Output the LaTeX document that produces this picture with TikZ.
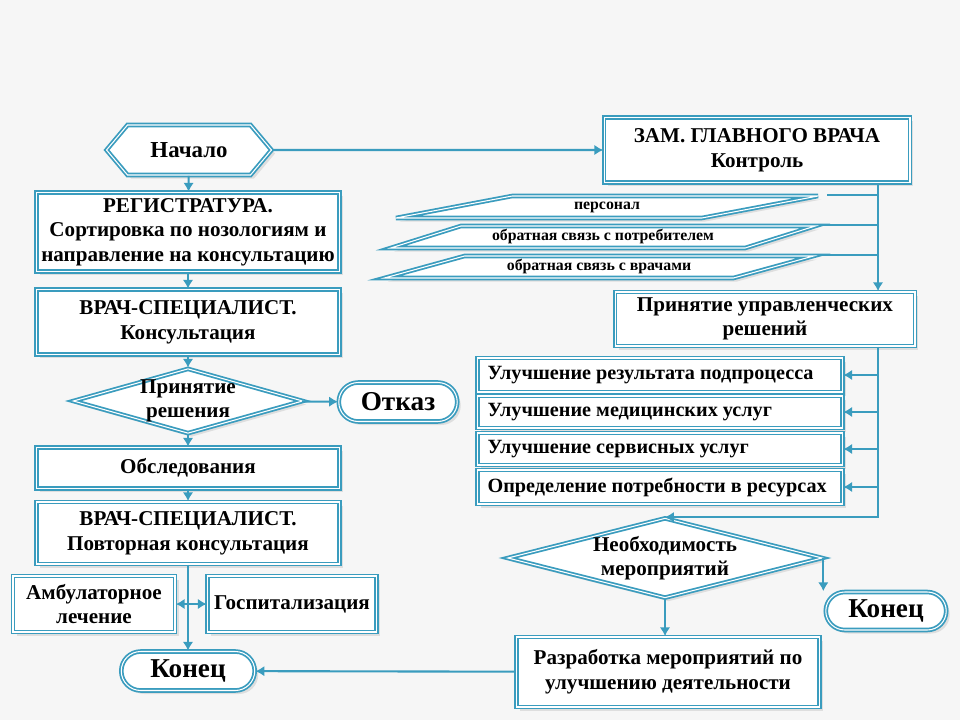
\documentclass[tikz,border=0pt]{standalone}
\usepackage{fontspec}
\setmainfont{Liberation Serif}
\usetikzlibrary{arrows.meta,shapes.geometric,shapes.symbols,shapes.misc,shadows}
\definecolor{frame}{RGB}{58,156,190}
\definecolor{paper}{RGB}{246,246,246}
\tikzset{
  base/.style={draw=frame, double=white, line width=1pt, double distance=0.6pt,
    fill=white, align=center, inner sep=1pt,
    font=\bfseries\fontsize{12}{14}\selectfont,
    drop shadow={shadow xshift=2pt, shadow yshift=-2pt, opacity=0.2}},
  box/.style={base, rectangle},
  item/.style={box, text width=6.9cm, align=flush left, inner xsep=0.2cm,
    font=\bfseries\fontsize{11.5}{13}\selectfont},
  start/.style={base, signal, signal to=west and east, signal pointer angle=100,
    minimum width=3.3cm, minimum height=1cm, font=\bfseries\fontsize{13}{14}\selectfont},
  stop/.style={base, rounded rectangle, minimum height=0.78cm,
    font=\bfseries\fontsize{15.5}{16}\selectfont},
  dec/.style={base, diamond, inner sep=-6pt},
  feed/.style={base, trapezium, trapezium left angle=15, trapezium right angle=165,
    trapezium stretches=true, minimum height=0.44cm, inner sep=0pt,
    font=\bfseries\fontsize{9}{10}\selectfont},
  arr/.style={draw=frame, line width=1.2pt, -{Latex[length=5pt,width=6pt]}},
  link/.style={draw=frame, line width=1.2pt}
}
\begin{document}
\begin{tikzpicture}[x=0.02cm,y=-0.02cm]
  \fill[paper] (0,0) rectangle (960,720);
  \draw
    (189,150) node[start] (start){Начало}
    (188,232) node[box, minimum width=6.05cm, minimum height=1.58cm] (reg){РЕГИСТРАТУРА.\\Сортировка по нозологиям и\\направление на консультацию}
    (188,322) node[box, minimum width=6.05cm, minimum height=1.3cm] (vr1){ВРАЧ-СПЕЦИАЛИСТ.\\Консультация}
    (188,401) node[dec, aspect=3.5, minimum width=4.6cm, minimum height=1.3cm] (d1){Принятие\\решения}
    (398,402) node[stop, minimum width=2.44cm] (otk){Отказ}
    (188,468) node[box, minimum width=6.05cm, minimum height=0.82cm] (obs){Обследования}
    (188,533) node[box, minimum width=6.05cm, minimum height=1.24cm] (vr2){ВРАЧ-СПЕЦИАЛИСТ.\\Повторная консультация}
    (94,604) node[box, minimum width=3.24cm, minimum height=1.12cm] (amb){Амбулаторное\\лечение}
    (292,604) node[box, minimum width=3.38cm, minimum height=1.12cm] (gosp){Госпитализация}
    (188,671) node[stop, minimum width=2.74cm] (kon1){Конец}
    (757,150) node[box, minimum width=6.12cm, minimum height=1.3cm] (zam){ЗАМ. ГЛАВНОГО ВРАЧА\\Контроль}
    (607,207) node[feed, minimum width=8.5cm] (p1){персонал}
    (603,237) node[feed, minimum width=8.5cm] (p2){обратная связь с потребителем}
    (599,267) node[feed, minimum width=8.6cm] (p3){обратная связь с врачами}
    (765,319) node[box, minimum width=6cm, minimum height=1.08cm] (upr){Принятие управленческих\\решений}
    (660,375) node[item, minimum height=0.68cm] (r1){Улучшение результата подпроцесса}
    (660,412) node[item, minimum height=0.64cm] (r2){Улучшение медицинских услуг}
    (660,449) node[item, minimum height=0.64cm] (r3){Улучшение сервисных услуг}
    (660,487) node[item, minimum height=0.68cm] (r4){Определение потребности в ресурсах}
    (665,558) node[dec, aspect=4, minimum width=6.3cm, minimum height=1.6cm] (nd){Необходимость\\мероприятий}
    (886,611) node[stop, minimum width=2.48cm, minimum height=0.76cm] (kon2){Конец}
    (668,672) node[box, minimum width=6.06cm, minimum height=1.4cm] (razr){Разработка мероприятий по\\улучшению деятельности};
  \coordinate (trunk) at (878,0);
  \begin{scope}[arr]
    \draw (start) to (reg);
    \draw (reg) to (vr1);
    \draw (vr1) to (d1);
    \draw (d1) to (otk);
    \draw (d1) to (obs);
    \draw (obs) to (vr2);
    \draw (vr2.south) to (vr2.south |- kon1.north);
    \draw[{Latex[length=5pt,width=6pt]}-{Latex[length=5pt,width=6pt]}] (amb) to (gosp);
    \draw (start) to (zam);
    \draw (zam.south -| trunk) to (upr.north -| trunk);
    \draw (upr.south -| trunk) |- (nd.north);
    \draw (r1.east -| trunk) to (r1.east);
    \draw (r2.east -| trunk) to (r2.east);
    \draw (r3.east -| trunk) to (r3.east);
    \draw (r4.east -| trunk) to (r4.east);
    \draw (nd.east) to (nd.east |- kon2.north);
    \draw (nd.south) to (nd.south |- razr.north);
    \draw (razr) to (kon1);
  \end{scope}
  \begin{scope}[link]
    \draw (p1.top right corner) to (p1.top right corner -| trunk);
    \draw (p2.top right corner) to (p2.top right corner -| trunk);
    \draw (p3.top right corner) to (p3.top right corner -| trunk);
  \end{scope}
\end{tikzpicture}
\end{document}
